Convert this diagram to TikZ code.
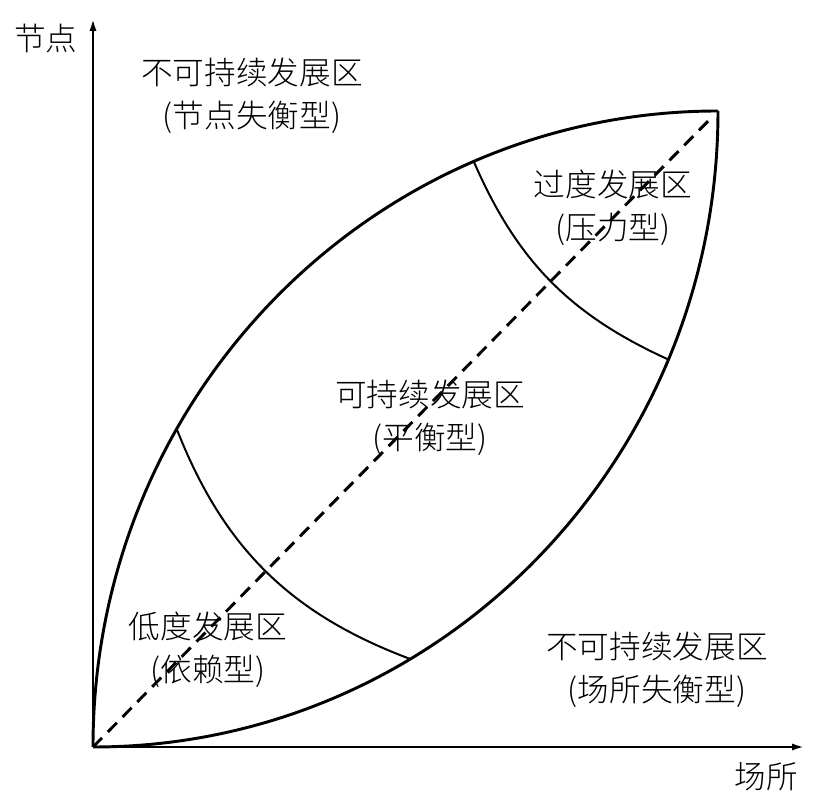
\documentclass[tikz,border=0pt]{standalone}
\usepackage{fontspec}
\setmainfont{Noto Sans CJK SC Light}
\usetikzlibrary{arrows.meta, calc}

\tikzset{
  zone/.style={align=center, font=\fontsize{27}{36.6}\selectfont},
  axis/.style={line width=2.4pt, -{Latex[length=11pt, width=6pt]}},
  rim/.style={line width=2.5pt},
  cut/.style={line width=1.7pt},
  diag/.style={line width=2.5pt, dash pattern=on 11pt off 7pt}
}

\begin{document}
\begin{tikzpicture}[x=0.03cm, y=0.03cm]

  \useasboundingbox (-93, -60) rectangle (733, 747);

  \coordinate (O) at (0, 0);
  \coordinate (P) at (625, 636);
  \coordinate (yTip) at (0, 729);
  \coordinate (xTip) at (712, 0);

  % where the two cuts meet the rims
  \path (625, 0) ++(150:625 and 636) coordinate (A);
  \path (625, 0) ++(113:625 and 636) coordinate (B);
  \path (0, 636) ++(300.5:625 and 636) coordinate (C);
  \path (0, 636) ++(337:625 and 636) coordinate (D);

  \draw[axis] (O) -- (yTip);
  \draw[axis] (O) -- (xTip);

  \draw[rim] (O) arc[start angle=180, end angle=90, x radius=625, y radius=636];
  \draw[rim] (O) arc[start angle=270, end angle=360, x radius=625, y radius=636];

  \draw[diag] (O) -- ($(O)!0.984!(P)$);

  \draw[cut] (A) to[bend right=24] (C);
  \draw[cut] (B) to[bend right=21] (D);

  \node[zone] (yLabel) at (-47, 709) {节点};
  \node[zone] (xLabel) at (673, -30) {场所};

  \node[zone] (upZone) at (159, 651) {不可持续发展区\\(节点失衡型)};
  \node[zone] (overZone) at (520, 539) {过度发展区\\(压力型)};
  \node[zone] (balZone) at (337, 329) {可持续发展区\\(平衡型)};
  \node[zone] (lowZone) at (115, 97) {低度发展区\\(依赖型)};
  \node[zone] (downZone) at (564, 77) {不可持续发展区\\(场所失衡型)};

\end{tikzpicture}
\end{document}
